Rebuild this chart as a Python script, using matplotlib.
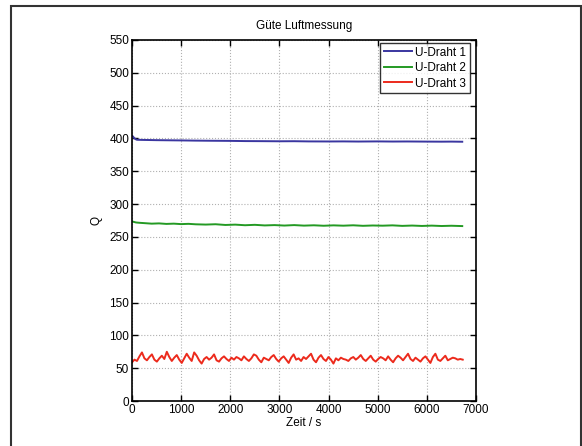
import numpy as np
import matplotlib.pyplot as plt
from matplotlib.patches import Rectangle

plt.rcParams["font.family"] = ["Liberation Sans", "DejaVu Sans"]

# Sensor readings, Q over time (s)
t_blue = [0, 20, 40, 70, 100, 200, 350, 500, 750, 1000, 1300, 1600, 2000, 2300,
          2600, 3000, 3300, 3600, 4000, 4300, 4600, 5000, 5300, 5600, 6000, 6300,
          6500, 6720]
q_blue = [404, 403, 401, 399, 398, 397.8, 397.6, 397.4, 397.2, 397, 396.7,
          396.5, 396.3, 396, 395.9, 395.7, 395.8, 395.5, 395.4, 395.5, 395.3,
          395.5, 395.3, 395.4, 395.2, 395.1, 395.2, 395]

t_green = [0, 30, 80, 150, 250, 400, 550, 700, 850, 1000, 1150, 1300, 1500, 1700,
           1900, 2100, 2300, 2500, 2700, 2900, 3100, 3300, 3500, 3700, 3900,
           4100, 4300, 4500, 4700, 4900, 5100, 5300, 5500, 5700, 5900, 6100,
           6300, 6500, 6720]
q_green = [273.5, 273, 272, 271.5, 271, 270.2, 270.6, 269.8, 270.2, 269.5, 269.9,
           269.2, 268.8, 269.3, 268.2, 268.7, 267.8, 268.4, 267.5, 268, 267.3,
           268, 267.2, 267.7, 267, 267.6, 267.1, 267.7, 266.9, 267.4, 267.1,
           267.6, 266.8, 267.3, 266.7, 267.2, 266.6, 267, 266.5]

q_red = [59, 63, 61, 68, 74, 65, 62, 67, 71, 63, 60, 65, 69, 64, 75, 67, 61, 66,
         70, 63, 58, 65, 72, 66, 61, 74, 69, 62, 57, 64, 67, 63, 66, 71, 62, 60,
         65, 68, 64, 61, 66, 63, 67, 65, 62, 68, 64, 61, 65, 71, 69, 63, 59, 66,
         64, 62, 67, 70, 64, 60, 65, 68, 63, 58, 66, 71, 63, 65, 61, 67, 64, 68,
         72, 63, 59, 66, 70, 64, 61, 67, 63, 57, 65, 62, 66, 64, 63, 61, 65, 67,
         63, 66, 70, 64, 61, 65, 69, 63, 60, 64, 67, 65, 62, 68, 63, 59, 65, 69,
         66, 62, 67, 72, 64, 61, 66, 63, 60, 65, 68, 63, 58, 67, 72, 63, 61, 65,
         69, 62, 64, 66, 65, 63, 64, 63]
t_red = np.linspace(0, 6730, len(q_red))

labels = ["U-Draht 1", "U-Draht 2", "U-Draht 3"]
colors = ["#3a36a0", "#249a24", "#ec2a1c"]

fig = plt.figure(figsize=(5.82, 4.46), dpi=100)
ax_l, ax_r, ax_t, ax_b = 132, 476, 40, 401
ax = fig.add_axes([ax_l / 582, 1 - ax_b / 446, (ax_r - ax_l) / 582,
                   (ax_b - ax_t) / 446])

ax.plot(t_blue, q_blue, color=colors[0], lw=1.4, label=labels[0])
ax.plot(t_green, q_green, color=colors[1], lw=1.4, label=labels[1])
ax.plot(t_red, q_red, color=colors[2], lw=1.4, label=labels[2])

ax.set_xlim(0, 7000)
ax.set_ylim(0, 550)
ax.set_xticks(np.arange(0, 7001, 1000))
ax.set_yticks(np.arange(0, 551, 50))
ax.tick_params(direction="in", top=True, right=True, labelsize=8.5, length=4,
               width=1, pad=2)
for s in ax.spines.values():
    s.set_linewidth(1.2)
ax.grid(True, color="#b0b0b0", linestyle=":", linewidth=0.8)

ax.set_title("Güte Luftmessung", fontsize=8.5, pad=8)
ax.set_xlabel("Zeit / s", fontsize=8.5, labelpad=1)
ax.set_ylabel("Q", fontsize=8.5, labelpad=5)

leg = ax.legend(loc="upper right", fontsize=8.5, frameon=True, fancybox=False,
                bbox_to_anchor=(1 - 6 / 344, 1 - 3 / 361), borderaxespad=0,
                handlelength=2.4, handletextpad=0.3, borderpad=0.3,
                labelspacing=0.3)
leg.get_frame().set_edgecolor("black")
leg.get_frame().set_linewidth(1.0)

# outer frame around the whole figure
fig.patches.append(Rectangle((11 / 582, -0.05), 570 / 582, 1.05 - 6 / 446,
                             transform=fig.transFigure, fill=False,
                             edgecolor="#333333", linewidth=1.5))

fig.savefig("out.png", dpi=100)
